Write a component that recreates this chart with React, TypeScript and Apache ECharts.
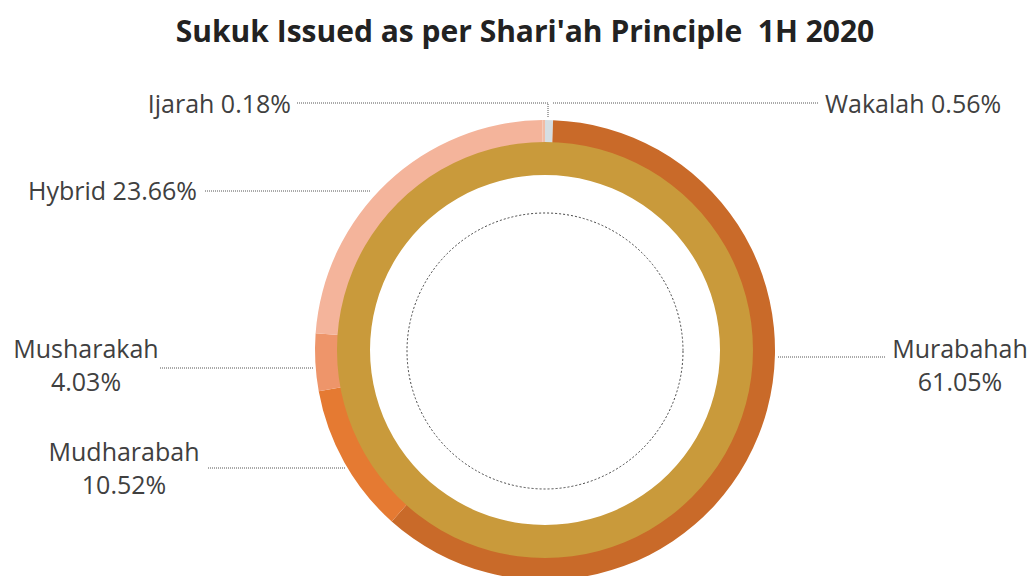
import React, { useEffect, useRef } from "react";
import * as echarts from "echarts";

const TITLE = "Sukuk Issued as per Shari'ah Principle  1H 2020";
const principles = ["Wakalah", "Murabahah", "Mudharabah", "Musharakah", "Hybrid", "Ijarah"];
const shares = [0.56, 61.05, 10.52, 4.03, 23.66, 0.18];
const colors = ["#D5DEE3", "#C96A29", "#E57A32", "#EE956A", "#F4B49B", "#F1BCA6"];
const twoLine = ["Murabahah", "Mudharabah", "Musharakah"];

// label placement (layout only)
const labelPos: Record<string, { x: number; y: number; align: string; line: number[][] }> = {
  Ijarah: { x: 291, y: 103, align: "right", line: [[297, 103], [548, 103], [548, 118]] },
  Wakalah: { x: 825, y: 103, align: "left", line: [[818, 103], [685, 103], [552, 103]] },
  Hybrid: { x: 197, y: 190, align: "right", line: [[205, 191], [288, 191], [371, 191]] },
  Musharakah: { x: 86, y: 364, align: "center", line: [[160, 368], [236, 368], [314, 368]] },
  Mudharabah: { x: 124, y: 467, align: "center", line: [[208, 468], [276, 468], [345, 468]] },
  Murabahah: { x: 960, y: 364, align: "center", line: [[778, 357], [830, 357], [885, 357]] },
};

export default function App() {
  const ref = useRef<HTMLDivElement>(null);
  useEffect(() => {
    if (!ref.current) return;
    const chart = echarts.init(ref.current, null, { renderer: "svg" });
    const font = "'Open Sans', 'Noto Sans', sans-serif";
    chart.setOption({
      animation: false,
      backgroundColor: "#ffffff",
      title: {
        text: TITLE,
        left: 520,
        textAlign: "center",
        top: 10,
        textStyle: { fontSize: 30, fontWeight: "bold", color: "#222222", fontFamily: font },
      },
      graphic: [
        {
          type: "circle",
          shape: { cx: 545, cy: 351, r: 138 },
          style: { fill: "none", stroke: "#444", lineWidth: 1, lineDash: [2, 2] },
          silent: true,
        },
      ],
      series: [
        {
          type: "pie",
          center: [545, 350],
          radius: [207, 230],
          startAngle: 90,
          clockwise: true,
          avoidLabelOverlap: false,
          itemStyle: { borderWidth: 0 },
          emphasis: { disabled: true },
          data: principles.map((n, i) => ({
            name: n,
            value: shares[i],
            itemStyle: { color: colors[i] },
          })),
          label: {
            show: true,
            position: "outside",
            color: "#404040",
            fontSize: 25,
            lineHeight: 33,
            fontFamily: font,
            formatter: (p: any) =>
              twoLine.includes(p.name)
                ? `${p.name}\n${p.value.toFixed(2)}%`
                : `${p.name} ${p.value.toFixed(2)}%`,
          },
          labelLine: {
            show: true,
            lineStyle: { color: "#555", width: 1, type: "dotted" },
          },
          labelLayout: (params: any) => {
            const name = principles[params.dataIndex];
            const pos = labelPos[name];
            return {
              x: pos.x,
              y: pos.y,
              align: pos.align,
              verticalAlign: "middle",
              labelLinePoints: pos.line,
            };
          },
        },
        {
          type: "pie",
          center: [545, 350],
          radius: [175, 208],
          silent: true,
          label: { show: false },
          labelLine: { show: false },
          data: [{ name: "total", value: 100, itemStyle: { color: "#C99A3B" } }],
        },
      ],
    });
    return () => chart.dispose();
  }, []);
  return (
    <div
      ref={ref}
      style={{ position: "fixed", left: 0, top: 0, width: 1032, height: 576 }}
    />
  );
}
